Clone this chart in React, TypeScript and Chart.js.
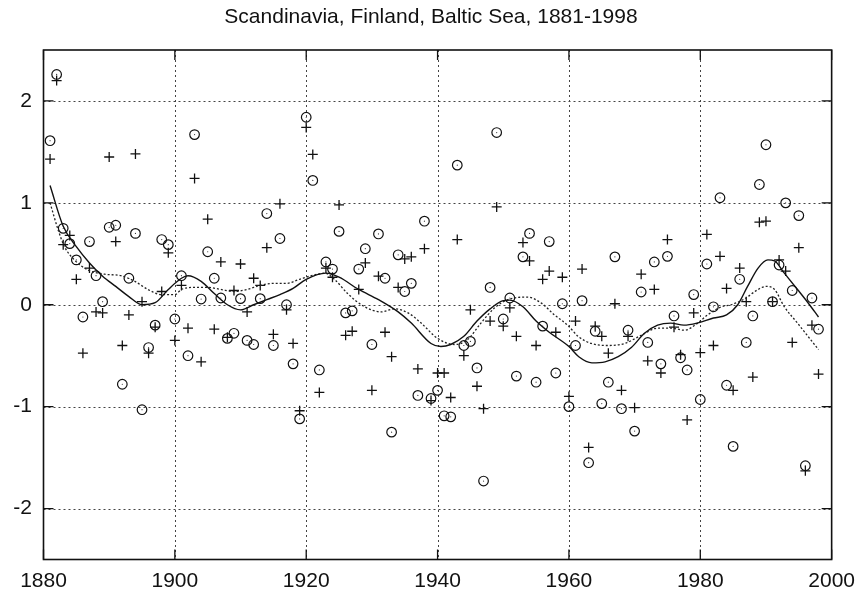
import React, { useEffect, useRef } from "react";
import { Chart, registerables } from "chart.js";

Chart.register(...registerables);

const TITLE = "Scandinavia, Finland, Baltic Sea, 1881-1998";
const FIRST_YEAR = 1881;

const xTicks = [1880, 1900, 1920, 1940, 1960, 1980, 2000];
const yTicks = [-2, -1, 0, 1, 2];

// circle markers (one per year, 1881-1998)
const circleValues = [
  1.61, 2.26, 0.75, 0.60, 0.44, -0.12, 0.62, 0.285, 0.03, 0.76,
  0.78, -0.78, 0.26, 0.70, -1.03, -0.42, -0.20, 0.64, 0.59, -0.14,
  0.285, -0.50, 1.67, 0.056, 0.52, 0.26, 0.066, -0.33, -0.28, 0.06,
  -0.35, -0.39, 0.06, 0.895, -0.40, 0.65, 0.0, -0.58, -1.12, 1.84,
  1.22, -0.64, 0.42, 0.35, 0.72, -0.08, -0.06, 0.35, 0.55, -0.39,
  0.695, 0.26, -1.25, 0.49, 0.13, 0.21, -0.89, 0.82, -0.92, -0.84,
  -1.09, -1.10, 1.37, -0.40, -0.36, -0.62, -1.73, 0.17, 1.69, -0.14,
  0.066, -0.70, 0.47, 0.70, -0.76, -0.21, 0.62, -0.67, 0.01, -1.0,
  -0.40, 0.04, -1.55, -0.26, -0.97, -0.76, 0.47, -1.02, -0.25, -1.24,
  0.125, -0.37, 0.42, -0.58, 0.475, -0.11, -0.52, -0.64, 0.10, -0.93,
  0.40, -0.02, 1.05, -0.79, -1.39, 0.25, -0.37, -0.11, 1.18, 1.57,
  0.03, 0.39, 1.0, 0.14, 0.875, -1.58, 0.066, -0.24,
];

// plus markers (one per year, 1881-1998)
const plusValues = [
  1.43, 2.20, 0.59, 0.68, 0.25, -0.475, 0.36, -0.07, -0.08, 1.45,
  0.62, -0.40, -0.10, 1.48, 0.03, -0.475, -0.22, 0.13, 0.51, -0.35,
  0.19, -0.23, 1.24, -0.56, 0.84, -0.24, 0.42, -0.32, 0.14, 0.40,
  -0.07, 0.26, 0.19, 0.56, -0.29, 0.99, -0.05, -0.38, -1.04, 1.74,
  1.475, -0.86, 0.36, 0.27, 0.98, -0.30, -0.26, 0.15, 0.41, -0.84,
  0.28, -0.27, -0.51, 0.17, 0.45, 0.47, -0.63, 0.55, -0.94, -0.67,
  -0.67, -0.91, 0.64, -0.50, -0.05, -0.80, -1.02, -0.16, 0.96, -0.21,
  -0.03, -0.31, 0.61, 0.43, -0.40, 0.25, 0.33, -0.27, 0.27, -0.90,
  -0.16, 0.35, -1.40, -0.21, -0.31, -0.475, 0.01, -0.84, -0.31, -1.01,
  0.30, -0.55, 0.15, -0.67, 0.64, -0.22, -0.49, -1.13, -0.08, -0.47,
  0.69, -0.40, 0.475, 0.16, -0.84, 0.36, 0.03, -0.71, 0.81, 0.82,
  0.03, 0.44, 0.33, -0.37, 0.56, -1.63, -0.20, -0.68,
];

// solid smoothed curve
const solidYears = [
  1881, 1883, 1885, 1887, 1889, 1891, 1893, 1895, 1897, 1899, 1901, 1902,
  1904, 1906, 1908, 1910, 1912, 1914, 1916, 1918, 1920, 1923, 1925, 1928,
  1931, 1934, 1936, 1939, 1940.5, 1942, 1944, 1946, 1948, 1950, 1951, 1953,
  1955, 1957, 1960, 1961.5, 1963.5, 1965.5, 1967.5, 1969.5, 1971.5, 1973.5,
  1975.5, 1977.5, 1979.5, 1982, 1984, 1985.7, 1987.2, 1988.8, 1990.3, 1991.3,
  1992.8, 1994.8, 1996.4, 1998,
];
const solidValues = [
  1.17, 0.77, 0.57, 0.41, 0.28, 0.18, 0.08, 0.0, 0.02, 0.15, 0.26, 0.285,
  0.23, 0.11, 0.0, -0.05, 0.0, 0.05, 0.10, 0.16, 0.25, 0.31, 0.27, 0.15,
  0.05, -0.07, -0.18, -0.38, -0.41, -0.39, -0.31, -0.16, -0.04, 0.04, 0.045, -0.02,
  -0.16, -0.27, -0.41, -0.51, -0.57, -0.56, -0.51, -0.42, -0.28, -0.20,
  -0.18, -0.20, -0.18, -0.13, -0.10, 0.0, 0.18, 0.36, 0.44, 0.43,
  0.31, 0.15, 0.02, -0.12,
];

// dotted smoothed curve
const dottedYears = [
  1881, 1882.2, 1883.2, 1884.7, 1886.8, 1889.3, 1891.8, 1893.9, 1895.9, 1898,
  1900, 1901, 1903, 1905, 1907, 1909, 1911, 1913, 1915, 1917, 1919, 1920.8,
  1922.8, 1924.3, 1926.3, 1928.9, 1931.4, 1933.4, 1935.5, 1937.5, 1940, 1942.6,
  1944.6, 1946.6, 1948.7, 1950.7, 1953.7, 1955.8, 1957.8, 1959.8, 1961.4, 1963.4,
  1965.9, 1968.5, 1971, 1973.5, 1975.6, 1977.6, 1979.6, 1981.1, 1983.2, 1984.7,
  1986.7, 1988.8, 1990, 1991.3, 1992.8, 1994.8, 1996.4, 1998,
];
const dottedValues = [
  1.0, 0.74, 0.57, 0.44, 0.34, 0.30, 0.285, 0.23, 0.15, 0.10,
  0.10, 0.15, 0.17, 0.17, 0.15, 0.13, 0.15, 0.19, 0.21, 0.21, 0.25, 0.285,
  0.31, 0.25, 0.11, -0.02, -0.07, -0.04, -0.08, -0.18, -0.33, -0.39,
  -0.34, -0.18, -0.03, 0.05, 0.075, 0.016, -0.10, -0.20, -0.31, -0.38,
  -0.40, -0.38, -0.30, -0.23, -0.23, -0.25, -0.18, -0.10, -0.02, 0.0,
  0.056, 0.15, 0.18, 0.15, -0.02, -0.18, -0.31, -0.44,
];

const FONT = "'Liberation Sans', Arial, Helvetica, sans-serif";

const framePlugin = {
  id: "framePlugin",
  beforeDatasetsDraw(chart: any) {
    const { ctx, chartArea } = chart;
    const { left, right, top, bottom } = chartArea;
    const xs = chart.scales.x;
    const ys = chart.scales.y;
    ctx.save();
    ctx.strokeStyle = "#444";
    ctx.lineWidth = 1;
    ctx.setLineDash([2, 3]);
    ctx.beginPath();
    xTicks.forEach((t) => {
      if (t <= 1880 || t >= 2000) return;
      const px = Math.round(xs.getPixelForValue(t)) + 0.5;
      ctx.moveTo(px, top);
      ctx.lineTo(px, bottom);
    });
    yTicks.forEach((t) => {
      const py = Math.round(ys.getPixelForValue(t)) + 0.5;
      ctx.moveTo(left, py);
      ctx.lineTo(right, py);
    });
    ctx.stroke();
    ctx.restore();
  },
  afterDatasetsDraw(chart: any) {
    const { ctx, chartArea } = chart;
    const { left, right, top, bottom } = chartArea;
    const xs = chart.scales.x;
    const ys = chart.scales.y;
    ctx.save();
    ctx.strokeStyle = "#111";
    ctx.lineWidth = 1.6;
    ctx.setLineDash([]);
    ctx.strokeRect(left, top, right - left, bottom - top);
    ctx.lineWidth = 1.3;
    ctx.beginPath();
    const len = 10;
    xTicks.forEach((t) => {
      const px = xs.getPixelForValue(t);
      ctx.moveTo(px, bottom);
      ctx.lineTo(px, bottom - len);
      ctx.moveTo(px, top);
      ctx.lineTo(px, top + len);
    });
    yTicks.forEach((t) => {
      const py = ys.getPixelForValue(t);
      ctx.moveTo(left, py);
      ctx.lineTo(left + len, py);
      ctx.moveTo(right, py);
      ctx.lineTo(right - len, py);
    });
    ctx.stroke();
    ctx.fillStyle = "#111";
    ctx.font = "21px " + FONT;
    ctx.textAlign = "center";
    ctx.textBaseline = "middle";
    ctx.fillText(TITLE, 431, 17);
    ctx.restore();
  },
};

export default function App() {
  const ref = useRef<HTMLCanvasElement | null>(null);

  useEffect(() => {
    if (!ref.current) return;
    const years = circleValues.map((_, i) => FIRST_YEAR + i);
    const circles = years.map((x, i) => ({ x, y: circleValues[i] }));
    const pluses = years.map((x, i) => ({ x, y: plusValues[i] }));
    const solid = solidYears.map((x, i) => ({ x, y: solidValues[i] }));
    const dotted = dottedYears.map((x, i) => ({ x, y: dottedValues[i] }));

    const chart = new Chart(ref.current, {
      type: "scatter",
      data: {
        datasets: [
          {
            type: "line",
            data: solid,
            borderColor: "#111",
            borderWidth: 1.4,
            pointRadius: 0,
            tension: 0.4,
            cubicInterpolationMode: "monotone",
            fill: false,
          } as any,
          {
            type: "line",
            data: dotted,
            borderColor: "#222",
            borderWidth: 1.3,
            borderDash: [2, 2],
            pointRadius: 0,
            tension: 0.4,
            cubicInterpolationMode: "monotone",
            fill: false,
          } as any,
          {
            data: circles,
            pointStyle: "circle",
            pointRadius: 4.8,
            borderColor: "#111",
            backgroundColor: "rgba(0,0,0,0)",
            pointBorderWidth: 1.2,
          } as any,
          {
            data: circles,
            pointStyle: "circle",
            pointRadius: 0.6,
            borderColor: "#333",
            backgroundColor: "#333",
            pointBorderWidth: 0,
          } as any,
          {
            data: pluses,
            pointStyle: "cross",
            pointRadius: 5,
            borderColor: "#111",
            pointBorderWidth: 1.3,
          } as any,
        ],
      },
      options: {
        animation: false,
        responsive: false,
        devicePixelRatio: 1,
        layout: { padding: { top: 50, right: 24, left: 0, bottom: 0 } },
        plugins: {
          legend: { display: false },
          title: { display: false },
          tooltip: { enabled: false },
        },
        scales: {
          x: {
            type: "linear",
            min: 1880,
            max: 2000,
            grid: { display: false },
            border: { display: false },
            afterBuildTicks: (scale: any) => {
              scale.ticks = xTicks.map((v) => ({ value: v }));
            },
            afterFit: (scale: any) => {
              scale.height = 35.5;
            },
            ticks: {
              color: "#111",
              font: { size: 21, family: FONT },
              padding: 1,
              maxRotation: 0,
              autoSkip: false,
              callback: (v: any) => String(v),
            },
          },
          y: {
            type: "linear",
            min: -2.5,
            max: 2.5,
            grid: { display: false },
            border: { display: false },
            afterBuildTicks: (scale: any) => {
              scale.ticks = yTicks.map((v) => ({ value: v }));
            },
            afterFit: (scale: any) => {
              scale.width = 43.5;
            },
            ticks: {
              color: "#111",
              font: { size: 21, family: FONT },
              padding: 3.5,
              callback: (v: any) => String(v),
            },
          },
        },
      },
      plugins: [framePlugin],
    });
    return () => chart.destroy();
  }, []);

  return (
    <div style={{ position: "fixed", left: 0, top: 0, width: 856, height: 595, background: "#fff" }}>
      <canvas ref={ref} width={856} height={595} style={{ width: 856, height: 595, display: "block" }} />
    </div>
  );
}
